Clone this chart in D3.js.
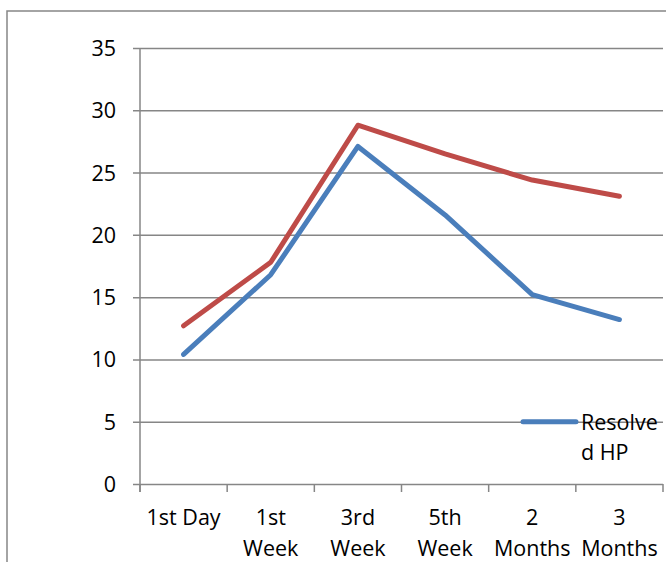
<!DOCTYPE html>
<html>
<head>
<meta charset="utf-8">
<script src="https://cdn.jsdelivr.net/npm/d3@7"></script>
<style>
  html, body { margin: 0; padding: 0; background: #fff; }
  svg { display: block; }
  text { font-family: "Open Sans", "Noto Sans", sans-serif; fill: #000; }
</style>
</head>
<body>
<div id="chart"></div>
<script>
const categories = ["1st Day", "1st Week", "3rd Week", "5th Week", "2 Months", "3 Months"];
const categoryLabelLines = [["1st Day"], ["1st", "Week"], ["3rd", "Week"], ["5th", "Week"], ["2", "Months"], ["3", "Months"]];
const resolvedHP = [10.4, 16.8, 27.1, 21.6, 15.2, 13.2];
const otherSeries = [12.7, 17.8, 28.8, 26.5, 24.4, 23.1];
const yTicks = [0, 5, 10, 15, 20, 25, 30, 35];
const legendLines = ["Resolve", "d HP"];

const W = 666, H = 562;
const plot = { left: 140, right: 663, top: 48, bottom: 484 };
const gridColor = "#868686";
const fontSize = "21.5px";

const svg = d3.select("#chart").append("svg").attr("width", W).attr("height", H);

// outer chart border (continues past right/bottom edge)
svg.append("rect")
  .attr("x", 7).attr("y", 11)
  .attr("width", W + 20).attr("height", H + 20)
  .attr("fill", "none").attr("stroke", gridColor).attr("stroke-width", 1.5);

const y = d3.scaleLinear().domain([0, 35]).range([plot.bottom, plot.top]);
const x = d3.scaleBand().domain(categories).range([plot.left, plot.right]).paddingInner(0).paddingOuter(0);
const xc = d => x(d) + x.bandwidth() / 2;

// y axis with gridlines
const yAxis = d3.axisLeft(y).tickValues(yTicks).tickSizeOuter(0)
  .tickSize(plot.right - plot.left);
const gy = svg.append("g").attr("transform", `translate(${plot.left},0)`).call(yAxis);
gy.select(".domain").remove();
gy.selectAll(".tick line")
  .attr("x1", -7).attr("x2", plot.right - plot.left)
  .attr("stroke", gridColor).attr("stroke-width", 1.5);
gy.selectAll(".tick text")
  .attr("x", -24)
  .style("font-size", fontSize).style("font-family", "'Open Sans', sans-serif")
  .attr("fill", "#000").attr("dy", "0.35em");

// vertical axis line
svg.append("line")
  .attr("x1", plot.left).attr("x2", plot.left)
  .attr("y1", y(35)).attr("y2", y(0) + 8)
  .attr("stroke", gridColor).attr("stroke-width", 1.5);

// x axis: boundary ticks
const boundaries = categories.map(c => x(c)).concat([x(categories[categories.length - 1]) + x.bandwidth()]);
svg.append("g").selectAll("line").data(boundaries).join("line")
  .attr("x1", d => d).attr("x2", d => d)
  .attr("y1", y(0)).attr("y2", y(0) + 8)
  .attr("stroke", gridColor).attr("stroke-width", 1.5);

// x axis labels via axisBottom
const xAxis = d3.axisBottom(x).tickSize(0).tickPadding(0).tickFormat("");
const gx = svg.append("g").attr("transform", `translate(0,${y(0)})`).call(xAxis);
gx.select(".domain").remove();
gx.selectAll(".tick").each(function(d, i) {
  const t = d3.select(this).append("text")
    .attr("text-anchor", "middle")
    .style("font-size", fontSize);
  categoryLabelLines[i].forEach((line, j) => {
    t.append("tspan").attr("x", 0).attr("y", 41 + j * 31).text(line);
  });
});

// lines
const line = d3.line().x((d, i) => xc(categories[i])).y(d => y(d));
svg.append("path").datum(otherSeries)
  .attr("d", line).attr("fill", "none")
  .attr("stroke", "#BE4B48").attr("stroke-width", 5)
  .attr("stroke-linejoin", "round").attr("stroke-linecap", "round");
svg.append("path").datum(resolvedHP)
  .attr("d", line).attr("fill", "none")
  .attr("stroke", "#4A7EBB").attr("stroke-width", 5)
  .attr("stroke-linejoin", "round").attr("stroke-linecap", "round");

// legend
const lg = svg.append("g");
lg.append("line")
  .attr("x1", 523).attr("x2", 576).attr("y1", y(5)).attr("y2", y(5))
  .attr("stroke", "#4A7EBB").attr("stroke-width", 5).attr("stroke-linecap", "round");
const lt = lg.append("text").style("font-size", fontSize);
legendLines.forEach((l, j) => {
  lt.append("tspan").attr("x", 581).attr("y", y(5) + 8 + j * 30).text(l);
});
</script>
</body>
</html>
